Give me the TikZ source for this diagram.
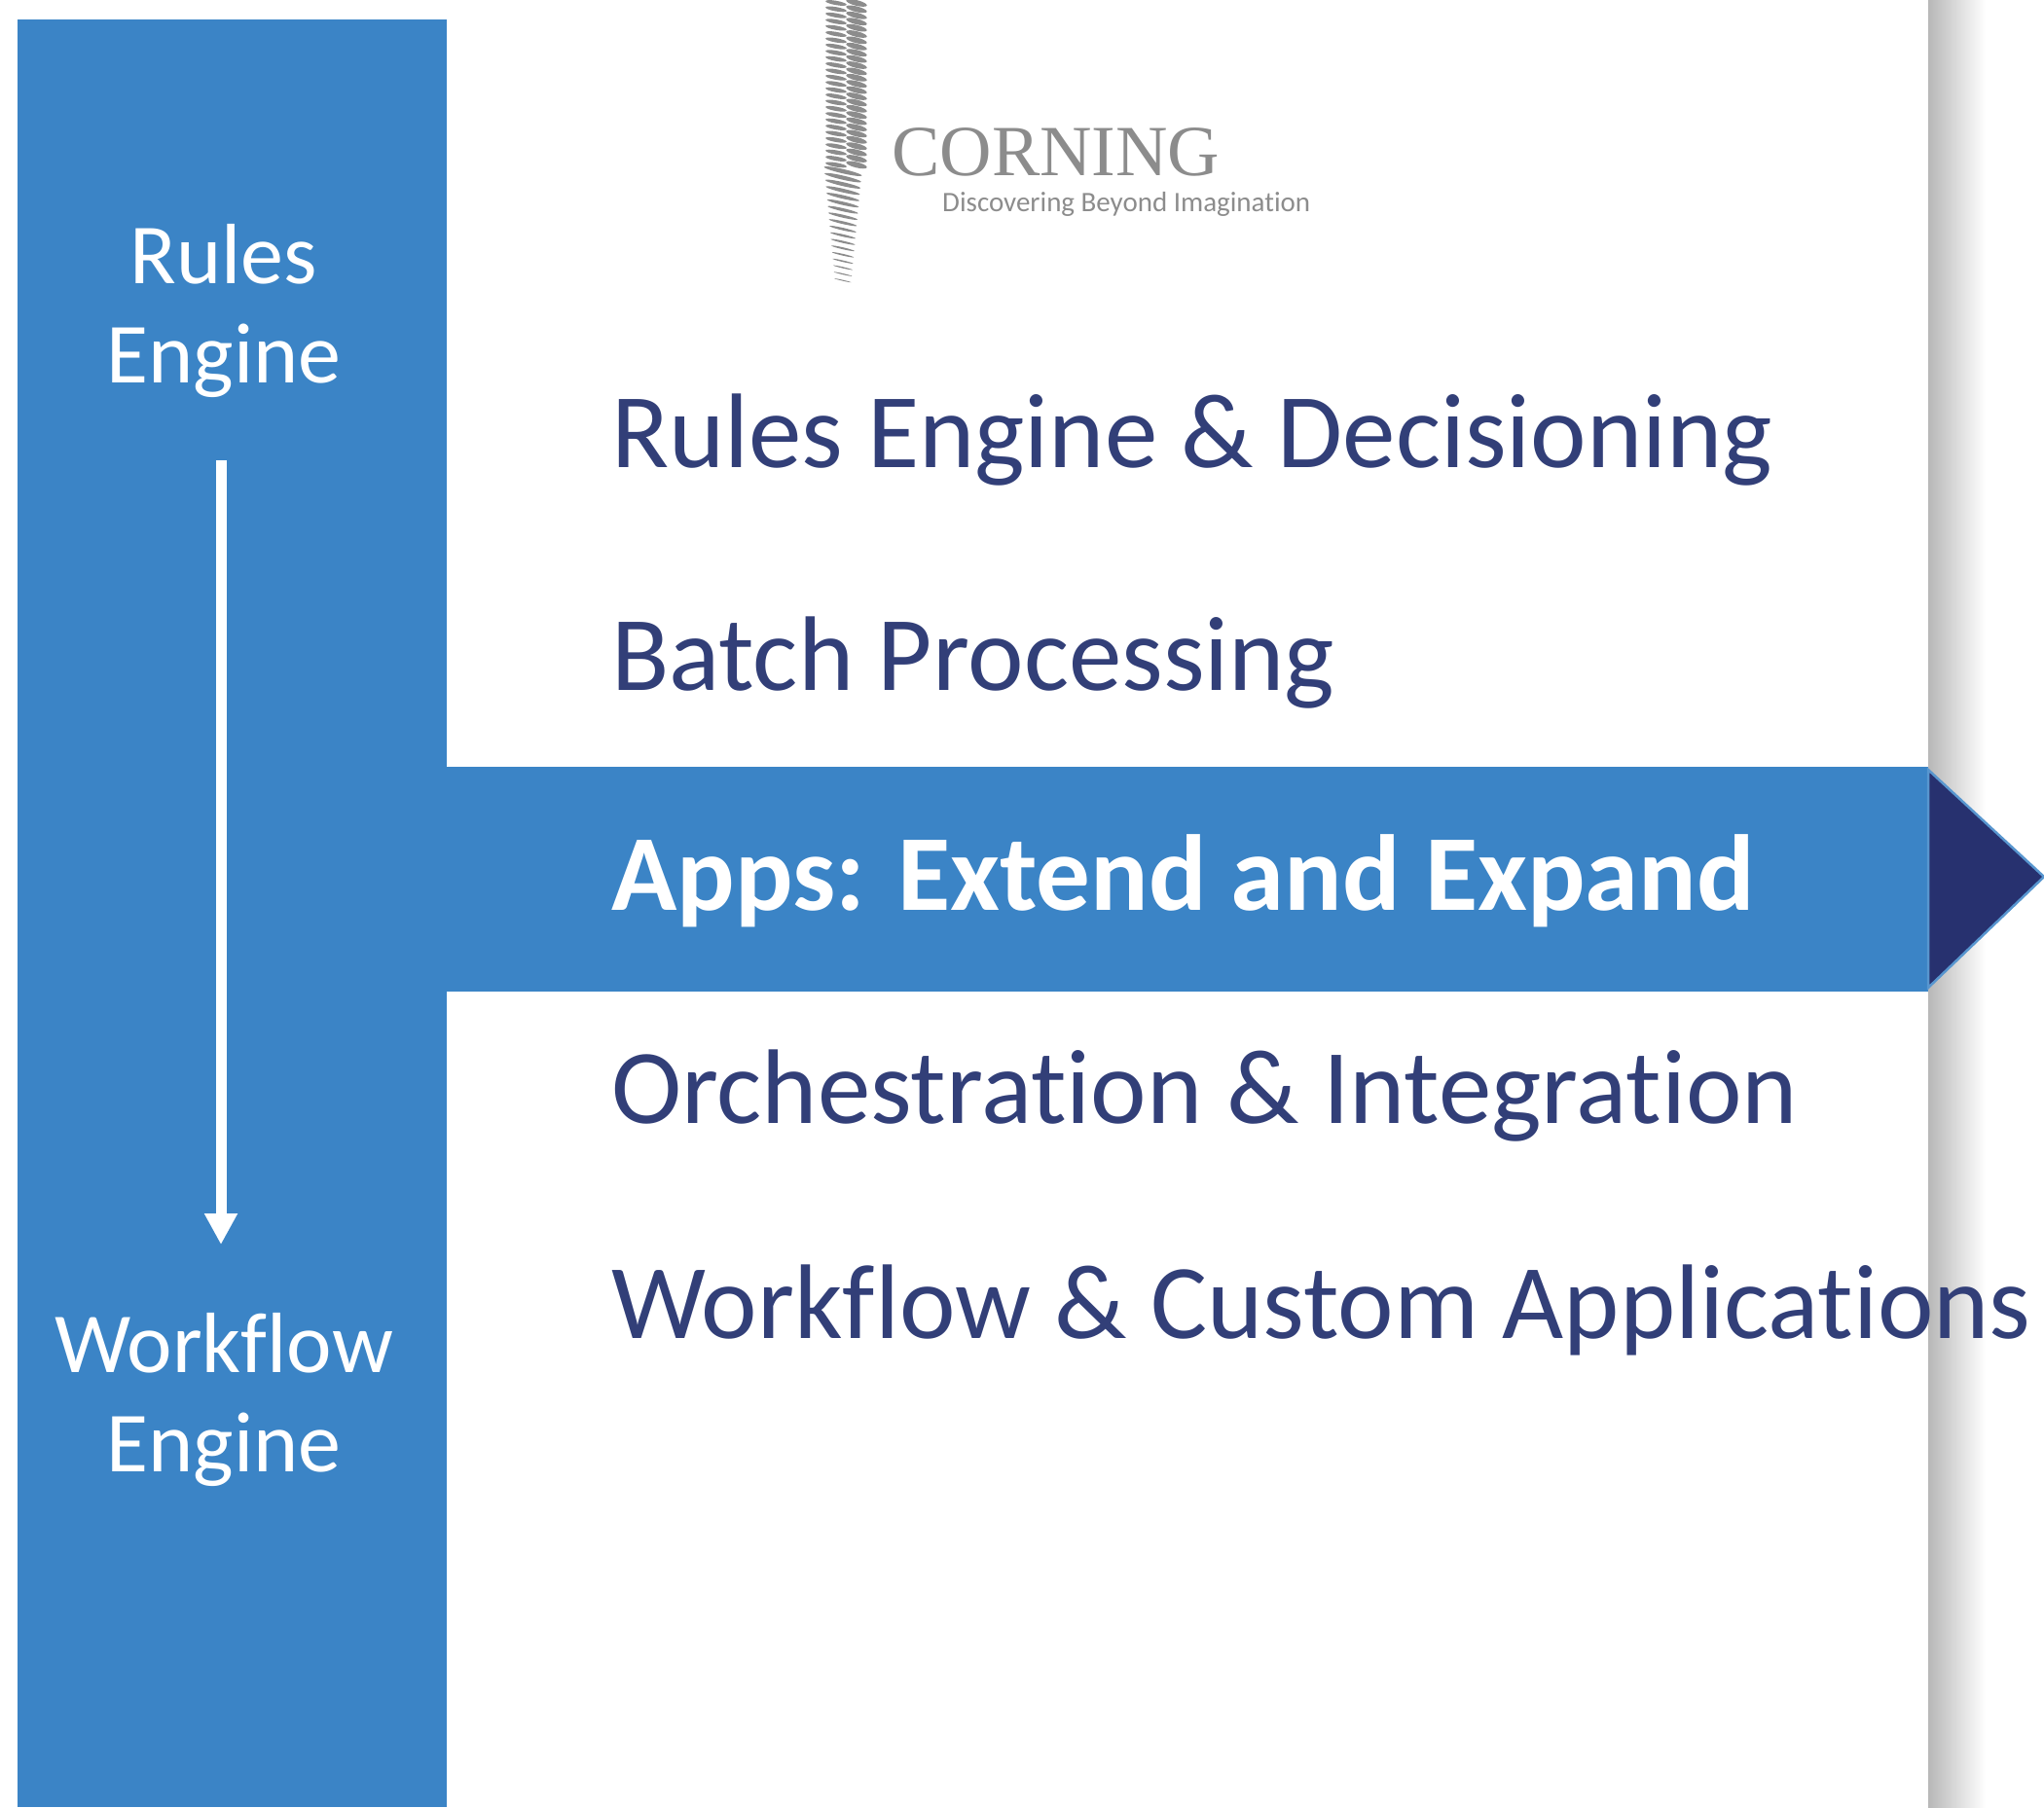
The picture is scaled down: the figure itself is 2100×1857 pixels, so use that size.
\documentclass[tikz,border=0pt]{standalone}
\usepackage{fontspec}
\setmainfont[Ligatures=NoCommon]{Carlito}
\newfontfamily\logofont{Liberation Serif}
\usetikzlibrary{arrows.meta,positioning,shadings}
\definecolor{barblue}{HTML}{3B84C6}
\definecolor{navy}{HTML}{27316F}
\definecolor{itemblue}{HTML}{323F78}
\definecolor{logogray}{HTML}{8C8C8C}
\begin{document}
\begin{tikzpicture}[x=1pt,y=-1pt,>=stealth,
	barlabel/.style={text=white,align=center,font=\fontsize{88}{102}\selectfont},
	item/.style={text=itemblue,anchor=base west,inner sep=0pt,font=\fontsize{109}{120}\selectfont},
	tick/.style={fill=logogray}
	]
\useasboundingbox (0,0) rectangle (2100,1857);
% shadow and blue bars
\shade[left color=black!28,middle color=black!7,right color=white] (1981,0) rectangle (2040,1857);
\fill[barblue] (18,20) rectangle (459,1857);
\fill[barblue] (459,788) rectangle (1981,1019);
\filldraw[fill=navy,draw=barblue!85!white,line width=2.5pt] (1981,791) -- (2100,901) -- (1981,1015) -- cycle;
% left column
\node[barlabel] (rules) at (230,320) {Rules\\Engine};
\node[barlabel] (workflow) at (230,1438) {Workflow\\Engine};
\coordinate (arrowtop) at (227,473);
\coordinate (arrowend) at (227,1279);
\draw[-{Triangle[width=32pt,length=32pt]},white,line width=11pt] (arrowtop) -- (arrowend);
% list
\node[item] (decision) at (628,480) {Rules Engine \& Decisioning};
\node[item,below=229pt of decision.base west,anchor=base west] (batch) {Batch Processing};
\node[item,below=226pt of batch.base west,anchor=base west,text=white,font=\fontsize{111}{120}\selectfont\bfseries] (apps) {Apps: Extend and Expand};
\node[item,below=219pt of apps.base west,anchor=base west] (orch) {Orchestration \& Integration};
\node[item,below=221pt of orch.base west,anchor=base west] (custom) {Workflow \& Custom Applications};
% logo
\foreach \n in {0,...,26}
	\fill[tick,rotate around={-10:(859,3+6.4*\n)}] (859,3+6.4*\n) ellipse [x radius=11,y radius=2.2];
\foreach \n in {0,...,26}
	\fill[tick,rotate around={-14:(880,3+6.4*\n)}] (880,3+6.4*\n) ellipse [x radius=11,y radius=2.9];
\foreach \n in {0,...,17}
	\fill[tick,rotate around={-13:(866,176+6.6*\n)}] (866,176+6.6*\n) ellipse [x radius={20-0.65*\n},y radius={2.2-0.1*\n}];
\node[anchor=base west,inner sep=0pt,text=logogray,font=\logofont\fontsize{74}{80}\selectfont] (corning) at (916,180) {CORNING};
\node[anchor=base west,inner sep=0pt,text=logogray,font=\fontsize{29}{34}\selectfont] (tagline) at (968,217) {Discovering Beyond Imagination};
\end{tikzpicture}
\end{document}
